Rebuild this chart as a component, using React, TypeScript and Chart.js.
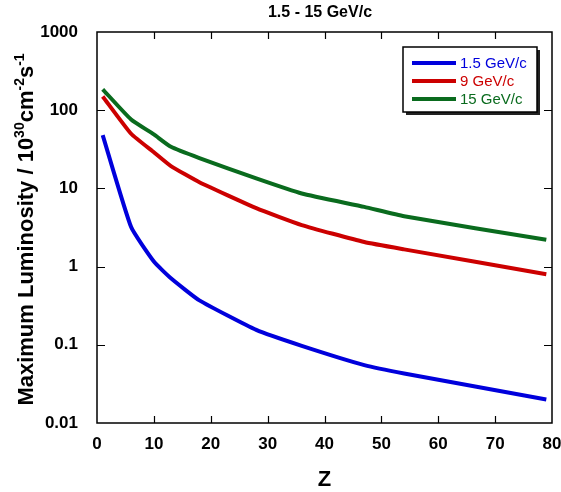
import React, { useEffect, useRef } from "react";
import { Chart, registerables } from "chart.js";

Chart.register(...registerables);

const zValues = [1, 6, 10, 13, 18, 28, 36, 47, 54, 79];
const lumLow = [48, 3.2, 1.16, 0.71, 0.37, 0.155, 0.097, 0.055, 0.043, 0.02];
const lumMid = [150, 50, 29, 19.3, 12, 5.6, 3.4, 2.06, 1.66, 0.8];
const lumHigh = [185, 76, 49, 34, 24.4, 13.4, 8.6, 5.8, 4.4, 2.2];
const seriesLabels = ["1.5 GeV/c", "9 GeV/c", "15 GeV/c"];
const seriesColors = ["#0000dc", "#cc0000", "#0a6b1e"];
const xTickValues = [0, 10, 20, 30, 40, 50, 60, 70, 80];
const yTickValues = [0.01, 0.1, 1, 10, 100, 1000];
const yTickLabels = ["0.01", "0.1", "1", "10", "100", "1000"];
const chartTitle = "1.5 - 15 GeV/c";
const xTitle = "Z";
const yTitleParts: [string, boolean][] = [
  ["Maximum Luminosity / 10", false],
  ["30", true],
  ["cm", false],
  ["-2", true],
  ["s", false],
  ["-1", true],
];

const FONT = '"Liberation Sans", Arial, Helvetica, sans-serif';

const decorPlugin = {
  id: "decor",
  afterDraw(chart: any) {
    const { ctx, chartArea } = chart;
    const { left, right, top, bottom } = chartArea;
    const xs = chart.scales.x;
    const ys = chart.scales.y;
    ctx.save();
    // frame
    ctx.strokeStyle = "#000";
    ctx.lineWidth = 1.5;
    ctx.strokeRect(left, top, right - left, bottom - top);
    // inward ticks
    ctx.lineWidth = 1.2;
    ctx.beginPath();
    xTickValues.forEach((v) => {
      const px = Math.round(xs.getPixelForValue(v)) + 0.5;
      if (v === xs.min || v === xs.max) return;
      ctx.moveTo(px, bottom);
      ctx.lineTo(px, bottom - 7);
      ctx.moveTo(px, top);
      ctx.lineTo(px, top + 7);
    });
    yTickValues.forEach((v) => {
      const py = Math.round(ys.getPixelForValue(v)) + 0.5;
      if (v === ys.min || v === ys.max) return;
      ctx.moveTo(left, py);
      ctx.lineTo(left + 8, py);
      ctx.moveTo(right, py);
      ctx.lineTo(right - 8, py);
    });
    ctx.stroke();

    // title
    ctx.fillStyle = "#000";
    ctx.font = `bold 16px ${FONT}`;
    ctx.textAlign = "center";
    ctx.textBaseline = "middle";
    ctx.fillText(chartTitle, 320, 13);

    // x title
    ctx.font = `bold 22px ${FONT}`;
    ctx.fillText(xTitle, (left + right) / 2, 480);

    // y title with superscripts
    ctx.save();
    ctx.translate(32.5, (top + bottom) / 2 + 2);
    ctx.rotate(-Math.PI / 2);
    ctx.textAlign = "left";
    ctx.textBaseline = "alphabetic";
    const mainFont = `bold 22px ${FONT}`;
    const supFont = `bold 14px ${FONT}`;
    let total = 0;
    const widths = yTitleParts.map(([t, sup]) => {
      ctx.font = sup ? supFont : mainFont;
      const w = ctx.measureText(t).width;
      total += w;
      return w;
    });
    let cx = -total / 2;
    yTitleParts.forEach(([t, sup], i) => {
      ctx.font = sup ? supFont : mainFont;
      ctx.fillText(t, cx, sup ? -9 : 0);
      cx += widths[i];
    });
    ctx.restore();

    // legend
    const bx = 403, by = 47, bw = 134, bh = 65;
    ctx.fillStyle = "#222";
    ctx.fillRect(bx + 3, by + 3, bw, bh);
    ctx.fillStyle = "#fff";
    ctx.fillRect(bx, by, bw, bh);
    ctx.strokeStyle = "#000";
    ctx.lineWidth = 1.5;
    ctx.strokeRect(bx, by, bw, bh);
    ctx.font = `15px ${FONT}`;
    ctx.textAlign = "left";
    ctx.textBaseline = "middle";
    chart.data.datasets.forEach((ds: any, i: number) => {
      const ry = 63 + i * 18;
      ctx.strokeStyle = ds.borderColor;
      ctx.lineWidth = 4;
      ctx.beginPath();
      ctx.moveTo(412, ry);
      ctx.lineTo(456, ry);
      ctx.stroke();
      ctx.fillStyle = ds.borderColor;
      ctx.fillText(ds.label, 460, ry + 1);
    });
    ctx.restore();
  },
};

export default function App() {
  const ref = useRef<HTMLCanvasElement | null>(null);
  useEffect(() => {
    document.body.style.margin = "0";
    const canvas = ref.current;
    if (!canvas) return;
    const series = [lumLow, lumMid, lumHigh];
    const chart = new Chart(canvas, {
      type: "line",
      data: {
        datasets: series.map((vals, i) => ({
          label: seriesLabels[i],
          data: zValues.map((z, j) => ({ x: z, y: vals[j] })),
          borderColor: seriesColors[i],
          backgroundColor: seriesColors[i],
          borderWidth: 4,
          pointRadius: 0,
          tension: 0.15,
          fill: false,
        })),
      },
      options: {
        animation: false,
        responsive: false,
        maintainAspectRatio: false,
        layout: { padding: { left: 0, top: 32, right: 9, bottom: 0 } },
        plugins: {
          legend: { display: false },
          title: { display: false },
          tooltip: { enabled: false },
        },
        scales: {
          x: {
            type: "linear",
            min: 0,
            max: 80,
            grid: { display: false },
            border: { display: false },
            afterBuildTicks: (s: any) => {
              s.ticks = xTickValues.map((v) => ({ value: v }));
            },
            afterFit: (s: any) => {
              s.height = 69;
              s.paddingLeft = 0;
              s.paddingRight = 0;
            },
            ticks: {
              color: "#000",
              font: { family: FONT, size: 17, weight: "bold" },
              padding: 3,
              maxRotation: 0,
              autoSkip: false,
            },
          },
          y: {
            type: "logarithmic",
            min: 0.01,
            max: 1000,
            grid: { display: false },
            border: { display: false },
            afterBuildTicks: (s: any) => {
              s.ticks = yTickValues.map((v) => ({ value: v }));
            },
            afterFit: (s: any) => {
              s.width = 97;
              s.paddingTop = 0;
              s.paddingBottom = 0;
            },
            ticks: {
              color: "#000",
              font: { family: FONT, size: 17, weight: "bold" },
              padding: 11,
              autoSkip: false,
              callback: (v: any) => {
                const idx = yTickValues.findIndex((t) => Math.abs(t - Number(v)) / t < 1e-6);
                return idx >= 0 ? yTickLabels[idx] : "";
              },
            },
          },
        },
      },
      plugins: [decorPlugin],
    } as any);
    return () => chart.destroy();
  }, []);
  return (
    <div style={{ width: 561, height: 492 }}>
      <canvas ref={ref} width={561} height={492} style={{ display: "block" }} />
    </div>
  );
}
